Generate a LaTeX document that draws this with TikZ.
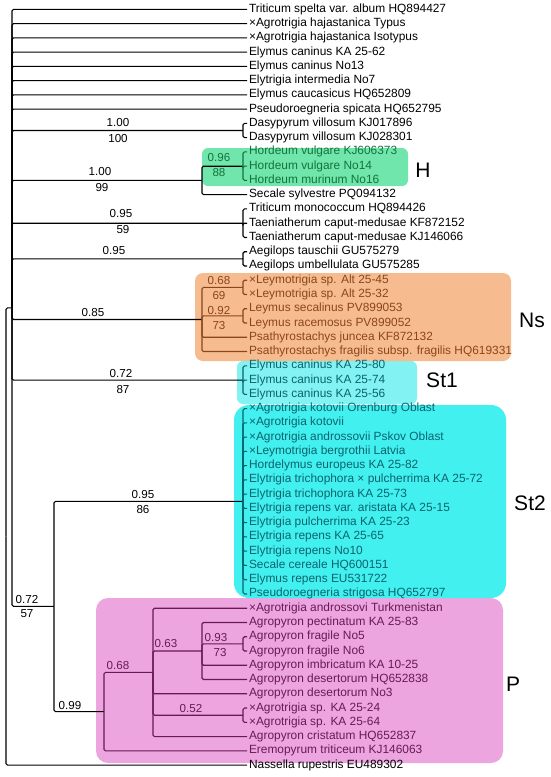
\documentclass[tikz,border=0pt]{standalone}
\usepackage{fontspec}
\setmainfont{Liberation Sans}

\definecolor{hbox}{RGB}{112,230,172}
\definecolor{nsbox}{RGB}{246,188,143}
\definecolor{stonebox}{RGB}{130,242,242}
\definecolor{sttwobox}{RGB}{66,240,240}
\definecolor{pbox}{RGB}{236,165,222}
\definecolor{hcol}{RGB}{20,115,60}
\definecolor{nscol}{RGB}{140,70,25}
\definecolor{stcol}{RGB}{10,100,110}
\definecolor{pcol}{RGB}{105,25,90}

\begin{document}
\begin{tikzpicture}[x=1pt, y=-1pt, line width=1.1pt, rounded corners=1.5pt,
    leaf/.style={anchor=west, inner xsep=1.5pt, inner ysep=0pt,
        text height=8.5pt, text depth=2.5pt, font=\fontsize{11.9}{13}\selectfont},
    supp/.style={inner sep=0pt, font=\fontsize{11.6}{13}\selectfont},
    clade/.style={inner sep=0pt, font=\fontsize{21}{24}\selectfont}]

    \useasboundingbox (0,0) rectangle (550,777);

    % Clade boxes
    \fill[pbox, rounded corners=12pt] (96,598) rectangle (503,763);
    \fill[sttwobox, rounded corners=15pt] (234,405) rectangle (506,598);
    \fill[stonebox, rounded corners=6pt] (237,361) rectangle (417,404);
    \fill[nsbox, rounded corners=8pt] (195,273) rectangle (511,361);
    \fill[hbox, rounded corners=6pt] (202,148) rectangle (408,186);

    % Leaves
    \foreach \i/\t in {1/Triticum spelta var. album HQ894427,
        2/×Agrotrigia hajastanica Typus, 3/×Agrotrigia hajastanica Isotypus,
        4/Elymus caninus KA 25-62, 5/Elymus caninus No13,
        6/Elytrigia intermedia No7, 7/Elymus caucasicus HQ652809,
        8/Pseudoroegneria spicata HQ652795, 9/Dasypyrum villosum KJ017896,
        10/Dasypyrum villosum KJ028301, 14/Secale sylvestre PQ094132,
        15/Triticum monococcum HQ894426, 16/Taeniatherum caput-medusae KF872152,
        17/Taeniatherum caput-medusae KJ146066, 18/Aegilops tauschii GU575279,
        19/Aegilops umbellulata GU575285, 54/Nassella rupestris EU489302}
        \node[leaf] (l\i) at (247, {9.3+(\i-1)*14.26}) {\t};

    % H
    \foreach \i/\t in {11/Hordeum vulgare KJ606373, 12/Hordeum vulgare No14,
        13/Hordeum murinum No16}
        \node[leaf, hcol] (l\i) at (247, {9.3+(\i-1)*14.26}) {\t};

    % Ns
    \foreach \i/\t in {20/×Leymotrigia sp. Alt 25-45, 21/×Leymotrigia sp. Alt 25-32,
        22/Leymus secalinus PV899053, 23/Leymus racemosus PV899052,
        24/Psathyrostachys juncea KF872132,
        25/Psathyrostachys fragilis subsp. fragilis HQ619331}
        \node[leaf, nscol] (l\i) at (247, {9.3+(\i-1)*14.26}) {\t};

    % St1 and St2
    \foreach \i/\t in {26/Elymus caninus KA 25-80, 27/Elymus caninus KA 25-74,
        28/Elymus caninus KA 25-56, 29/×Agrotrigia kotovii Orenburg Oblast,
        30/×Agrotrigia kotovii, 31/×Agrotrigia androssovii Pskov Oblast,
        32/×Leymotrigia bergrothii Latvia, 33/Hordelymus europeus KA 25-82,
        34/Elytrigia trichophora × pulcherrima KA 25-72,
        35/Elytrigia trichophora KA 25-73, 36/Elytrigia repens var. aristata KA 25-15,
        37/Elytrigia pulcherrima KA 25-23, 38/Elytrigia repens KA 25-65,
        39/Elytrigia repens No10, 40/Secale cereale HQ600151,
        41/Elymus repens EU531722, 42/Pseudoroegneria strigosa HQ652797}
        \node[leaf, stcol] (l\i) at (247, {9.3+(\i-1)*14.26}) {\t};

    % P
    \foreach \i/\t in {43/×Agrotrigia androssovi Turkmenistan,
        44/Agropyron pectinatum KA 25-83, 45/Agropyron fragile No5,
        46/Agropyron fragile No6, 47/Agropyron imbricatum KA 10-25,
        48/Agropyron desertorum HQ652838, 49/Agropyron desertorum No3,
        50/×Agrotrigia sp. KA 25-24, 51/×Agrotrigia sp. KA 25-64,
        52/Agropyron cristatum HQ652837, 53/Eremopyrum triticeum KJ146063}
        \node[leaf, pcol] (l\i) at (247, {9.3+(\i-1)*14.26}) {\t};

    % Internal nodes
    \coordinate (root) at (6,536.5);
    \coordinate (n1) at (12,307.9);
    \coordinate (dasy) at (243,130.5);
    \coordinate (hs) at (202,180.4);
    \coordinate (hord) at (243,166.2);
    \coordinate (tm) at (243,223.2);
    \coordinate (aeg) at (243,258.9);
    \coordinate (ns) at (202,319.5);
    \coordinate (ley) at (243,287.4);
    \coordinate (leym) at (243,315.9);
    \coordinate (st1) at (243,380.1);
    \coordinate (n72) at (54,606.4);
    \coordinate (st2) at (243,501.3);
    \coordinate (pp) at (104,711.6);
    \coordinate (p68) at (153,672.4);
    \coordinate (p63) at (202,651);
    \coordinate (p93) at (243,643.9);
    \coordinate (p52) at (243,715.2);

    % Branches
    \draw (root) |- (n1);
    \draw (root) |- (l54.west);
    \foreach \i in {1,...,8} \draw (n1) |- (l\i.west);
    \foreach \c in {dasy,hs,tm,aeg,ns,st1,n72} \draw (n1) |- (\c);
    \foreach \i in {9,10} \draw (dasy) |- (l\i.west);
    \draw (hs) |- (hord);
    \draw (hs) |- (l14.west);
    \foreach \i in {11,12,13} \draw[hcol] (hord) |- (l\i.west);
    \foreach \i in {15,16,17} \draw (tm) |- (l\i.west);
    \foreach \i in {18,19} \draw (aeg) |- (l\i.west);
    \draw[nscol] (ns) |- (ley);
    \draw[nscol] (ns) |- (leym);
    \draw[nscol] (ns) |- (l24.west);
    \draw[nscol] (ns) |- (l25.west);
    \foreach \i in {20,21} \draw[nscol] (ley) |- (l\i.west);
    \foreach \i in {22,23} \draw[nscol] (leym) |- (l\i.west);
    \foreach \i in {26,27,28} \draw[stcol] (st1) |- (l\i.west);
    \draw (n72) |- (st2);
    \draw (n72) |- (pp);
    \foreach \i in {29,...,42} \draw[stcol] (st2) |- (l\i.west);
    \draw[pcol] (pp) |- (p68);
    \draw[pcol] (pp) |- (l53.west);
    \foreach \c in {l43.west,p63,l49.west,p52,l52.west} \draw[pcol] (p68) |- (\c);
    \foreach \c in {l44.west,p93,l47.west,l48.west} \draw[pcol] (p63) |- (\c);
    \foreach \i in {45,46} \draw[pcol] (p93) |- (l\i.west);
    \foreach \i in {50,51} \draw[pcol] (p52) |- (l\i.west);

    % Support values
    \node[supp] (s-dasy) at (118,123) {1.00};
    \node[supp] (b-dasy) at (118,139) {100};
    \node[supp] (s-hs) at (100,172) {1.00};
    \node[supp] (b-hs) at (102,188) {99};
    \node[supp, hcol] (s-hord) at (219,158) {0.96};
    \node[supp, hcol] (b-hord) at (219,173) {88};
    \node[supp] (s-tm) at (121,214) {0.95};
    \node[supp] (b-tm) at (123,230) {59};
    \node[supp] (s-aeg) at (114,251) {0.95};
    \node[supp] (s-ns) at (93,313) {0.85};
    \node[supp, nscol] (s-ley) at (219,281) {0.68};
    \node[supp, nscol] (b-ley) at (219,296) {69};
    \node[supp, nscol] (s-leym) at (219,311) {0.92};
    \node[supp, nscol] (b-leym) at (219,326) {73};
    \node[supp] (s-st1) at (121,374) {0.72};
    \node[supp] (b-st1) at (123,390) {87};
    \node[supp] (s-st2) at (143,494) {0.95};
    \node[supp] (b-st2) at (143,509) {86};
    \node[supp] (s-n72) at (27,599) {0.72};
    \node[supp] (b-n72) at (27,614) {57};
    \node[supp] (s-pp) at (70,705) {0.99};
    \node[supp, pcol] (s-p68) at (118,665) {0.68};
    \node[supp, pcol] (s-p63) at (166,643) {0.63};
    \node[supp, pcol] (s-p93) at (216,637) {0.93};
    \node[supp, pcol] (b-p93) at (220,652) {73};
    \node[supp, pcol] (s-p52) at (191,708) {0.52};

    % Clade names
    \node[clade] (c-h) at (423,170.5) {H};
    \node[clade] (c-ns) at (532,320) {Ns};
    \node[clade] (c-st1) at (442,380) {St1};
    \node[clade] (c-st2) at (530,503) {St2};
    \node[clade] (c-p) at (513,684) {P};
\end{tikzpicture}
\end{document}
